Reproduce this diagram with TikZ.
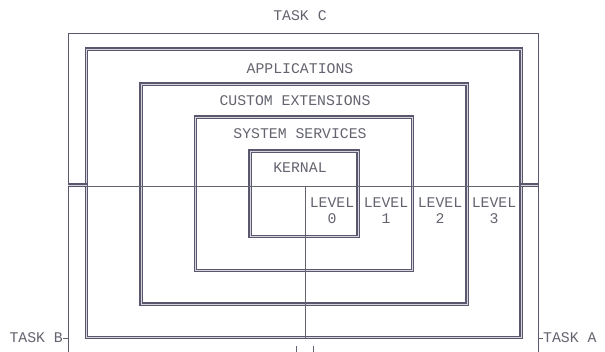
\documentclass[tikz,border=0pt]{standalone}
\usepackage{fontspec}
\newfontfamily\twfont{Liberation Mono}
\definecolor{ink}{RGB}{100,100,112}
\definecolor{boxink}{RGB}{90,88,110}
\tikzset{
  lbl/.style={inner sep=0pt, font=\twfont\fontsize{14.8}{16}\selectfont, text=ink},
  layerbox/.style={draw=boxink, line width=1.2pt, double=white!75!boxink, double distance=0.8pt},
  thinline/.style={draw=ink, line width=0.75pt},
  outerline/.style={draw=boxink, line width=0.75pt},
}
\begin{document}
\begin{tikzpicture}[x=1pt,y=-1pt]
\useasboundingbox[fill=white] (0,0) rectangle (605,351);
% outer frame (open at bottom, runs off the page)
\coordinate (oBL) at (68,352);
\coordinate (oTL) at (68,33);
\coordinate (oTR) at (538,33);
\coordinate (oBR) at (538,352);
\draw[outerline] (oBL) -- (oTL) -- (oTR) -- (oBR);
% layer boxes
\draw[layerbox] (86.5,49) rectangle (521,337.5);
\draw[layerbox] (141,84) rectangle (467,304);
\draw[layerbox] (195.5,117) rectangle (412.5,270.5);
\draw[layerbox] (250,151) rectangle (358,236.5);
% cross lines
\coordinate (hL) at (86.5,186);
\coordinate (hR) at (521,186);
\draw[thinline] (hL) -- (hR);
\coordinate (vT) at (305,186);
\coordinate (vB) at (305,337.5);
\draw[thinline] (vT) -- (vB);
% double ticks between frame and applications box
\coordinate (tLa) at (68,185);
\coordinate (tLb) at (86.5,185);
\coordinate (tRa) at (521,185);
\coordinate (tRb) at (538,185);
\draw[layerbox] (tLa) -- (tLb);
\draw[layerbox] (tRa) -- (tRb);
% bottom ticks
\coordinate (k1a) at (296,346); \coordinate (k1b) at (296,352);
\coordinate (k2a) at (313,346); \coordinate (k2b) at (313,352);
\draw[thinline] (k1a) -- (k1b);
\draw[thinline] (k2a) -- (k2b);
% labels
\node[lbl] (taskc) at (300,16) {TASK C};
\node[lbl] (apps) at (300,69) {APPLICATIONS};
\node[lbl] (cust) at (295,101) {CUSTOM EXTENSIONS};
\node[lbl] (sys) at (300,134) {SYSTEM SERVICES};
\node[lbl] (kern) at (300,168) {KERNAL};
\node[lbl] (lv0) at (332,203) {LEVEL};
\node[lbl] (n0) at (332,219) {0};
\node[lbl] (lv1) at (386,203) {LEVEL};
\node[lbl] (n1) at (386,219) {1};
\node[lbl] (lv2) at (440,203) {LEVEL};
\node[lbl] (n2) at (440,219) {2};
\node[lbl] (lv3) at (494,203) {LEVEL};
\node[lbl] (n3) at (494,219) {3};
\node[lbl, anchor=east] (taskb) at (63,338) {TASK B};
\node[lbl, anchor=west] (taska) at (543,338) {TASK A};
\coordinate (bEnd) at (68,338);
\coordinate (aEnd) at (538,338);
\draw[thinline] (taskb.east) -- (bEnd);
\draw[thinline] (taska.west) -- (aEnd);
\end{tikzpicture}
\end{document}
